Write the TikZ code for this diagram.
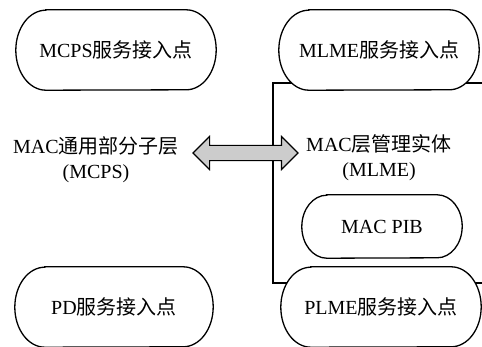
\documentclass[tikz,border=0pt]{standalone}
\usepackage{fontspec}
\setmainfont{Liberation Serif}
\newfontfamily\cjk{Noto Sans CJK SC}
\usetikzlibrary{shapes.arrows,backgrounds}
\tikzset{
  stadline/.style={draw=black, line width=1.3pt, fill=white},
  framel/.style={draw=black, line width=1.2pt},
  stadbox/.style={inner sep=0pt, minimum width=200pt, minimum height=80pt, font=\fontsize{20}{24}\selectfont, align=center},
  lbl/.style={inner sep=0pt, font=\fontsize{20}{25}\selectfont, align=center},
  dblarrow/.style={double arrow, draw=black, line width=1.1pt, fill=black!20, minimum height=105pt, minimum width=32pt, double arrow head extend=9pt, inner xsep=0pt, inner ysep=7pt}
}
\newcommand\stadpath[3]{%
  \path[stadline] ([xshift=#2]#1.north west) -- ([xshift=-#2]#1.north east)
    arc[start angle=90, end angle=-90, x radius=#2, y radius=#3]
    -- ([xshift=#2]#1.south west)
    arc[start angle=270, end angle=90, x radius=#2, y radius=#3] -- cycle;}
\begin{document}
\begin{tikzpicture}[x=1pt,y=1pt]
\useasboundingbox (0,0) rectangle (482,346);
\node[stadbox] (mcps) at (116,296) {MCPS{\cjk 服务接入点}};
\node[stadbox] (mlme) at (379,296) {MLME{\cjk 服务接入点}};
\node[stadbox, minimum width=198pt] (pd) at (114,39) {PD{\cjk 服务接入点}};
\node[stadbox] (plme) at (381,39) {PLME{\cjk 服务接入点}};
\node[stadbox, minimum width=160pt, minimum height=63pt] (pib) at (382,119.5) {MAC PIB};
\node[lbl] (mcpsl) at (96,186) {MAC{\cjk 通用部分子层}\\(MCPS)};
\node[lbl] (mlmel) at (379,188.5) {MAC{\cjk 层管理实体}\\(MLME)};
\coordinate (ftr) at (495,263);
\coordinate (fbl) at (273,63);
\coordinate (fbr) at (495,63);
\begin{scope}[on background layer]
  \draw[framel] (ftr) -| (fbl) -- (fbr);
  \stadpath{mcps}{30pt}{40pt}
  \stadpath{mlme}{30pt}{40pt}
  \stadpath{pd}{30pt}{40pt}
  \stadpath{plme}{30pt}{40pt}
  \stadpath{pib}{25pt}{31.5pt}
\end{scope}
\node[dblarrow] (arr) at (245.5,193) {};
\end{tikzpicture}
\end{document}
